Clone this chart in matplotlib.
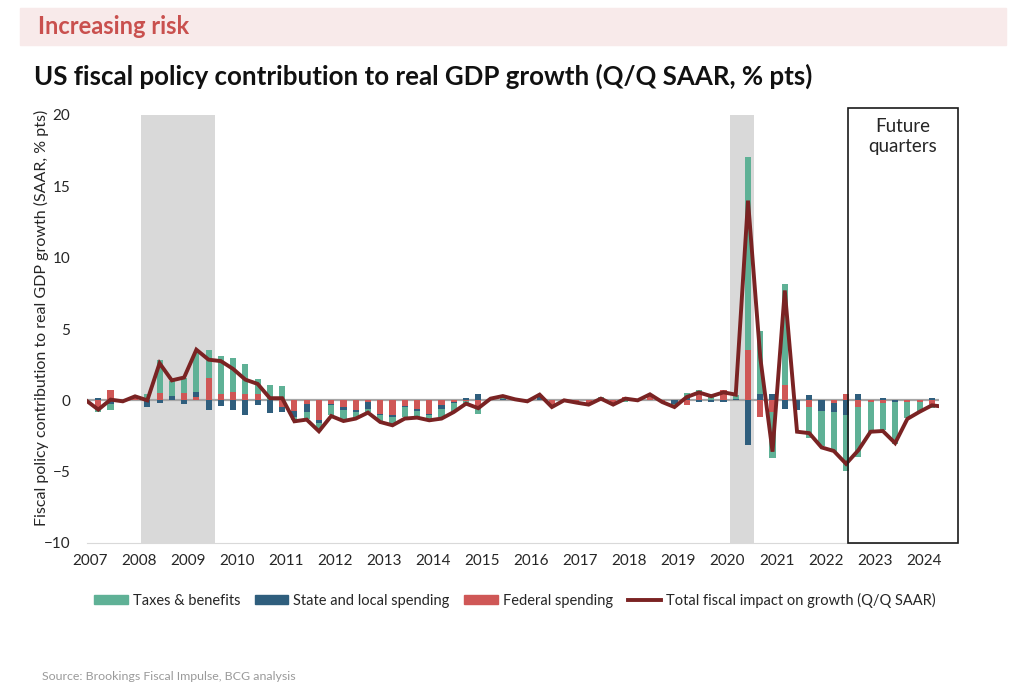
import numpy as np
import matplotlib
matplotlib.use("Agg")
import matplotlib.pyplot as plt
from matplotlib.patches import Rectangle, Patch
from matplotlib.lines import Line2D

plt.rcParams['font.family'] = ['Lato', 'DejaVu Sans']

# quarterly data, index 0 = 2007 Q1
federal = [0, -0.6, 0.7, 0.05, 0.15, 0.05, 0.5, 0.0, 0.5, 0.2,
           1.6, 0.42, 0.58, 0.42, 0.42, 0.0, -0.5, -0.77, -0.23, -1.4,
           -0.23, -0.47, -0.7, -0.1, -0.93, -1.05, -0.4, -0.63, -0.93, -0.3,
           -0.12, -0.08, -0.55, 0.05, 0.0, 0.03, -0.04, 0.0, -0.3, 0.0,
           -0.1, -0.3, -0.08, -0.3, 0.23, 0.0, 0.3, -0.05, 0.0, -0.3,
           0.45, 0.0, 0.7, 0.0, 3.5, -1.2, -0.82, 1.05, 0.0, -0.47,
           0.0, -0.19, 0.42, -0.5, -0.12, -0.19, 0.0, -0.12, -0.1, -0.23]
state_local = [0, 0.15, -0.25, -0.05, 0.1, -0.45, -0.2, 0.28, -0.28, 0.4,
               -0.7, -0.42, -0.7, -1.05, -0.35, -0.9, -0.3, -0.4, -0.58, -0.2,
               -0.12, -0.23, -0.1, -0.5, -0.12, -0.1, -0.07, -0.14, -0.1, -0.28,
               -0.1, 0.15, 0.47, 0.0, 0.1, 0.0, 0.0, 0.2, 0.0, 0.0,
               0.0, 0.0, 0.05, 0.0, 0.0, 0.0, 0.0, 0.0, -0.23, 0.13,
               -0.12, -0.15, -0.15, 0.1, -3.1, 0.47, 0.47, -0.58, -0.65, 0.35,
               -0.77, -0.63, -1.05, 0.45, 0.0, 0.16, -0.12, 0.0, 0.0, 0.16]
taxes_benefits = [0, -0.2, -0.4, -0.05, 0.05, 0.4, 2.3, 1.1, 1.1, 2.7,
                  1.95, 2.7, 2.4, 2.1, 1.1, 1.05, 1.0, -0.23, -0.47, -0.55,
                  -0.65, -0.58, -0.47, -0.25, -0.47, -0.58, -0.7, -0.4, -0.35, -0.58,
                  -0.6, -0.3, -0.42, 0.07, 0.2, 0.04, -0.03, 0.2, -0.17, 0.0,
                  -0.06, 0.0, 0.15, 0.0, -0.1, 0.0, 0.12, -0.07, -0.24, 0.4,
                  0.25, 0.45, 0.0, 0.3, 13.55, 4.4, -3.2, 7.13, 0.0, -2.15,
                  -2.45, -2.8, -3.9, -3.45, -2.17, -1.92, -2.92, -1.1, -0.72, -0.28]
total = [0.0, -0.65, 0.05, -0.07, 0.28, 0.0, 2.6, 1.4, 1.6, 3.55,
         2.85, 2.75, 2.2, 1.45, 1.15, 0.15, 0.15, -1.47, -1.35, -2.17,
         -1.1, -1.45, -1.28, -0.86, -1.52, -1.75, -1.28, -1.21, -1.4, -1.28,
         -0.82, -0.23, -0.55, 0.12, 0.3, 0.07, -0.07, 0.4, -0.47, 0.0,
         -0.16, -0.3, 0.12, -0.3, 0.12, 0.0, 0.42, -0.12, -0.47, 0.23,
         0.55, 0.29, 0.56, 0.4, 14.0, 3.0, -3.6, 7.7, -2.2, -2.3,
         -3.3, -3.55, -4.45, -3.5, -2.2, -2.15, -3.0, -1.3, -0.8, -0.35,
         -0.45]
years = list(range(2007, 2025))
recessions = [(4.5, 10.5), (52.5, 54.5)]

green = '#5fb196'
blue = '#2f5e7d'
red = '#cf5756'
line_c = '#7a2323'

fig = plt.figure(figsize=(10.24, 6.88), dpi=100)
ax = fig.add_axes([87/1024, (688-543)/688, 852/1024, 428/688])

for a, b in recessions:
    ax.axvspan(a, b, color='#d9d9d9', lw=0, zorder=0)
ax.axhline(0, color='#a6a6a6', lw=1.6, zorder=1)

x = np.arange(len(federal))
pos = np.zeros(len(x))
neg = np.zeros(len(x))
for vals, col in [(federal, red), (state_local, blue), (taxes_benefits, green)]:
    v = np.array(vals)
    bottom = np.where(v >= 0, pos, neg)
    ax.bar(x, v, 0.5, bottom=bottom, color=col, zorder=2)
    pos = pos + np.clip(v, 0, None)
    neg = neg + np.clip(v, None, 0)

ax.plot(np.arange(len(total)), total, color=line_c, lw=2.8, zorder=3, solid_joinstyle='miter')

ax.set_xlim(0.08, 69.58)
ax.set_ylim(-10, 20)
ax.set_yticks([-10, -5, 0, 5, 10, 15, 20])
ax.set_xticks([4*k + 0.33 for k in range(len(years))])
ax.set_xticklabels([str(y) for y in years])
ax.tick_params(axis='both', length=0, labelsize=11, colors='#262626')
ax.tick_params(axis='y', pad=12)
ax.tick_params(axis='x', pad=8)
for s in ['top', 'right', 'left']:
    ax.spines[s].set_visible(False)
ax.spines['bottom'].set_color('#d9d9d9')

# future quarters box
ax.add_patch(Rectangle((62.15, -10), 71.1 - 62.15, 30.5, fill=False,
                       ec='#1a1a1a', lw=1.2, clip_on=False, zorder=4))
ax.text(66.6, 18.5, "Future\nquarters", ha='center', va='center', fontsize=13.5,
        color='#262626', linespacing=1.2)

# header
fig.patches.append(Rectangle((20/1024, 1-45/688), 986/1024, 37/688,
                             transform=fig.transFigure, color='#f8eaea', zorder=0))
fig.text(38/1024, 1-27/688, "Increasing risk", fontsize=17, fontweight='bold',
         color='#c9504e', va='center')
fig.text(34/1024, 1-76/688, "US fiscal policy contribution to real GDP growth (Q/Q SAAR, % pts)",
         fontsize=18.6, fontweight='bold', color='#111111', va='center')
fig.text(41/1024, 1-318/688, "Fiscal policy contribution to real GDP growth (SAAR, % pts)",
         rotation=90, fontsize=11.5, color='#262626', ha='center', va='center')

handles = [Patch(color=green), Patch(color=blue), Patch(color=red),
           Line2D([0], [0], color=line_c, lw=2.8)]
labels = ["Taxes & benefits", "State and local spending", "Federal spending",
          "Total fiscal impact on growth (Q/Q SAAR)"]
fig.legend(handles, labels, loc='center', bbox_to_anchor=(0.503, 1-600/688), ncol=4,
           frameon=False, fontsize=10.5, handlelength=2.3, handleheight=0.55,
           handletextpad=0.35, columnspacing=1.0, labelcolor='#262626')

fig.text(42/1024, 1-676/688, "Source: Brookings Fiscal Impulse, BCG analysis",
         fontsize=8.9, color='#9a9a9a', va='center')

fig.savefig("out.png", dpi=100)
